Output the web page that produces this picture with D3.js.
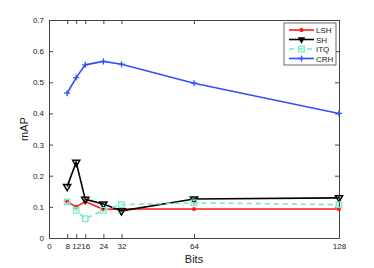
<!DOCTYPE html>
<html>
<head>
<meta charset="utf-8">
<script src="https://cdn.jsdelivr.net/npm/d3@7"></script>
<style>
    body { margin: 0; background: #fff; }
    svg text { font-family: "Liberation Sans", Arial, sans-serif; fill: #222; }
</style>
</head>
<body>
<div id="chart"></div>
<script>
// data
const bits = [8, 12, 16, 24, 32, 64, 128];
const lshValues = [0.117, 0.100, 0.117, 0.092, 0.093, 0.093, 0.093];
const shValues = [0.165, 0.243, 0.124, 0.109, 0.087, 0.125, 0.129];
const itqValues = [0.116, 0.089, 0.062, 0.089, 0.107, 0.113, 0.107];
const crhValues = [0.465, 0.515, 0.556, 0.567, 0.558, 0.497, 0.400];
const xTicks = [0, 8, 12, 16, 24, 32, 64, 128];
const yTicks = [0, 0.1, 0.2, 0.3, 0.4, 0.5, 0.6, 0.7];

const seriesList = [
    { name: 'LSH', values: lshValues, color: '#ff1a1a', marker: 'star', dash: null },
    { name: 'SH', values: shValues, color: '#000000', marker: 'triangle', dash: null },
    { name: 'ITQ', values: itqValues, color: '#72e8cf', marker: 'square', dash: '5,4' },
    { name: 'CRH', values: crhValues, color: '#2f4fff', marker: 'plus', dash: null }
];

const totalWidth = 374, totalHeight = 268;
const margin = { top: 20, right: 35, bottom: 30, left: 49 };
const width = totalWidth - margin.left - margin.right;
const height = totalHeight - margin.top - margin.bottom;

const svg = d3.select('#chart')
    .append('svg')
    .attr('width', totalWidth)
    .attr('height', totalHeight)
    .append('g')
    .attr('transform', `translate(${margin.left}, ${margin.top})`);

const xScale = d3.scaleLinear().domain([0, 128]).range([0, width]);
const yScale = d3.scaleLinear().domain([0, 0.7]).range([height, 0]);

// axes, MATLAB style: ticks inward and mirrored on top/right
const axisColor = '#444';
function styleAxis(g) {
    g.select('.domain').attr('stroke', axisColor);
    g.selectAll('.tick line').attr('stroke', axisColor);
    g.selectAll('.tick text').style('font-size', '8px').attr('fill', '#333');
}

svg.append('g')
    .attr('transform', `translate(0, ${height})`)
    .call(d3.axisBottom(xScale).tickValues(xTicks).tickFormat(d3.format('d')).tickSizeInner(-4).tickSizeOuter(0).tickPadding(5))
    .call(styleAxis);

svg.append('g')
    .call(d3.axisTop(xScale).tickValues(xTicks).tickFormat('').tickSizeInner(-4).tickSizeOuter(0))
    .call(styleAxis);

svg.append('g')
    .call(d3.axisLeft(yScale).tickValues(yTicks).tickFormat(d => d === 0 ? '0' : d3.format('.1f')(d)).tickSizeInner(-4).tickSizeOuter(0).tickPadding(5))
    .call(styleAxis);

svg.append('g')
    .attr('transform', `translate(${width}, 0)`)
    .call(d3.axisRight(yScale).tickValues(yTicks).tickFormat('').tickSizeInner(-4).tickSizeOuter(0))
    .call(styleAxis);

svg.append('text')
    .attr('x', width / 2)
    .attr('y', height + 25)
    .attr('text-anchor', 'middle')
    .style('font-size', '11px')
    .text('Bits');

svg.append('text')
    .attr('transform', `translate(-21, ${height / 2}) rotate(-90)`)
    .attr('text-anchor', 'middle')
    .style('font-size', '11px')
    .text('mAP');

// marker drawing
function drawMarker(g, type, color, size) {
    if (type === 'triangle') {
        g.append('path')
            .attr('d', d3.symbol().type(d3.symbolTriangle).size(size)())
            .attr('transform', 'rotate(180)')
            .attr('fill', size < 15 ? color : 'none')
            .attr('stroke', color)
            .attr('stroke-width', 1.5);
    } else if (type === 'square') {
        g.append('rect')
            .attr('x', -2.8).attr('y', -2.8).attr('width', 5.6).attr('height', 5.6)
            .attr('fill', 'none')
            .attr('stroke', color)
            .attr('stroke-width', 1.2);
    } else if (type === 'plus') {
        g.append('path')
            .attr('d', 'M-3,0H3M0,-3V3')
            .attr('stroke', color)
            .attr('stroke-width', 1.3);
    } else if (type === 'star') {
        g.append('path')
            .attr('d', 'M-2,0H2M0,-2V2M-1.5,-1.5L1.5,1.5M-1.5,1.5L1.5,-1.5')
            .attr('stroke', color)
            .attr('stroke-width', 1.1);
    }
}

const line = d3.line()
    .x(d => xScale(d.x))
    .y(d => yScale(d.y));

seriesList.forEach(s => {
    const points = bits.map((b, i) => ({ x: b, y: s.values[i] }));

    svg.append('path')
        .datum(points)
        .attr('fill', 'none')
        .attr('stroke', s.color)
        .attr('stroke-width', 1.6)
        .attr('stroke-dasharray', s.dash)
        .attr('d', line);

    points.forEach(p => {
        const g = svg.append('g')
            .attr('transform', `translate(${xScale(p.x)}, ${yScale(p.y)})`);
        drawMarker(g, s.marker, s.color, 22);
    });
});

// legend
const legend = svg.append('g')
    .attr('transform', `translate(${284 - margin.left}, ${23 - margin.top})`);

legend.append('rect')
    .attr('width', 52)
    .attr('height', 42)
    .attr('fill', '#fff')
    .attr('stroke', axisColor)
    .attr('stroke-width', 0.8);

seriesList.forEach((s, i) => {
    const y = 7 + i * 9.5;
    legend.append('line')
        .attr('x1', 5).attr('x2', 30)
        .attr('y1', y).attr('y2', y)
        .attr('stroke', s.color)
        .attr('stroke-width', 1.6)
        .attr('stroke-dasharray', s.dash);
    const g = legend.append('g').attr('transform', `translate(17.5, ${y})`);
    drawMarker(g, s.marker, s.color, 10);
    legend.append('text')
        .attr('x', 32)
        .attr('y', y + 3)
        .style('font-size', '8px')
        .text(s.name);
});
</script>
</body>
</html>
